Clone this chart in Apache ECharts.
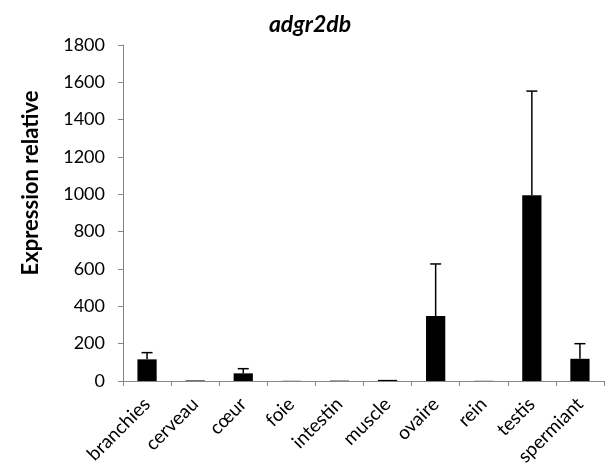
<!DOCTYPE html>
<html>
<head>
<meta charset="utf-8">
<script src="https://cdn.jsdelivr.net/npm/echarts@6/dist/echarts.min.js"></script>
<style>html,body{margin:0;padding:0;background:#fff}#c{width:609px;height:471px}</style>
</head>
<body>
<div id="c"></div>
<script>
const categories = ['branchies','cerveau','cœur','foie','intestin','muscle','ovaire','rein','testis','spermiant'];
const values = [116, 3, 41, 1, 2, 6, 348, 1, 995, 119];
const errors = [36, 0, 25, 0, 0, 0, 279, 0, 558, 81];
const yTicks = [0, 200, 400, 600, 800, 1000, 1200, 1400, 1600, 1800];
const yTitle = 'Expression relative';
const chartTitle = 'adgr2db';

const FONT = 'Lato, "Open Sans", sans-serif';
const chart = echarts.init(document.getElementById('c'), null, {renderer: 'canvas'});
const errData = categories.map((c, i) => [i, values[i], values[i] + errors[i], errors[i]]);
chart.setOption({
  animation: false,
  title: {
    text: chartTitle, left: 305, top: 8, textAlign: 'center',
    textStyle: {fontFamily: FONT, fontSize: 23, fontWeight: 'bold', fontStyle: 'italic', color: '#000'}
  },
  graphic: [{
    type: 'text', x: 31, y: 183, rotation: Math.PI / 2,
    style: {text: yTitle, fontFamily: FONT, fontSize: 22, fontWeight: 'bold', fill: '#000',
            align: 'center', verticalAlign: 'middle'}
  }],
  grid: {left: 123, right: 5, top: 45, bottom: 90},
  xAxis: {
    type: 'category', data: categories, boundaryGap: true,
    axisLine: {lineStyle: {color: '#868686', width: 1}},
    axisTick: {show: true, length: 5, lineStyle: {color: '#868686'}},
    axisLabel: {rotate: 45, fontFamily: FONT, fontSize: 19, color: '#000', margin: 20, interval: 0}
  },
  yAxis: {
    type: 'value', min: yTicks[0], max: yTicks[yTicks.length - 1], interval: 200,
    axisLine: {show: true, lineStyle: {color: '#868686', width: 1}},
    axisTick: {show: true, length: 5, lineStyle: {color: '#868686'}},
    splitLine: {show: false},
    axisLabel: {fontFamily: FONT, fontSize: 18, color: '#000', margin: 18,
                formatter: v => String(v)}
  },
  series: [
    {
      type: 'bar', data: values, barWidth: '40%',
      itemStyle: {color: '#000'}
    },
    {
      type: 'custom', data: errData, z: 5,
      renderItem: function (params, api) {
        if (api.value(3) <= 0) return null;
        const x = api.value(0);
        const p1 = api.coord([x, api.value(1)]);
        const p2 = api.coord([x, api.value(2)]);
        const hw = 5.5;
        const st = {stroke: '#000', lineWidth: 1.5};
        return {type: 'group', children: [
          {type: 'line', shape: {x1: p1[0], y1: p1[1], x2: p2[0], y2: p2[1]}, style: st},
          {type: 'line', shape: {x1: p2[0] - hw, y1: p2[1], x2: p2[0] + hw, y2: p2[1]}, style: st}
        ]};
      }
    }
  ]
});
</script>
</body>
</html>
